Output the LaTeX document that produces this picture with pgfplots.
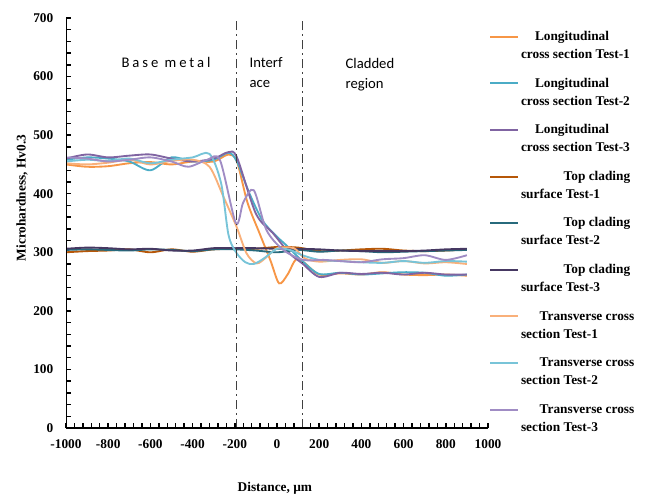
\documentclass[border=0pt]{standalone}
\usepackage{fontspec}
\setmainfont{Liberation Serif}
\newfontfamily\carlito{Carlito}
\usepackage{pgfplots}
\pgfplotsset{compat=1.18}
\definecolor{lo1}{HTML}{F79646}
\definecolor{lo2}{HTML}{4BACC6}
\definecolor{lo3}{HTML}{8064A2}
\definecolor{tc1}{HTML}{B65708}
\definecolor{tc2}{HTML}{276A7C}
\definecolor{tc3}{HTML}{463862}
\definecolor{tr1}{HTML}{F9B07A}
\definecolor{tr2}{HTML}{78C4D8}
\definecolor{tr3}{HTML}{A08CC4}
\renewcommand{\arraystretch}{1.125}
\newcommand{\lent}[3]{\begin{tabular}[t]{@{}l@{}}\hspace*{#1}#2\\#3\end{tabular}}
\begin{document}
\begin{tikzpicture}
\path[use as bounding box] (-49.5pt,-51pt) rectangle (437.25pt,321pt);
\begin{axis}[at={(0,0)}, anchor=south west, scale only axis,
  width=316.5pt, height=307.5pt,
  xmin=-1000, xmax=1000, ymin=0, ymax=700,
  axis line style={draw=none},
  xtick pos=left, ytick pos=left,
  xtick={-1000,-800,...,1000}, ytick={0,100,...,700},
  minor x tick num=4, minor y tick num=4,
  tick align=inside,
  major tick length=4pt, minor tick length=4pt,
  tick style={draw=black, line width=1.1pt},
  /pgf/number format/assume math mode=true,
  /pgf/number format/1000 sep={},
  xticklabel style={font=\bfseries, yshift=-5pt},
  yticklabel style={font=\bfseries, xshift=-6pt},
  xlabel={Distance, µm}, ylabel={Microhardness, Hv0.3},
  label style={font=\bfseries},
  xlabel style={at={(axis description cs:0.495,-0.146)}, anchor=center},
  ylabel style={at={(axis description cs:-0.104,0.561)}, anchor=center},
  legend style={at={(axis description cs:1.0024,0.976)}, anchor=north west,
    draw=none, fill=none, inner sep=0pt, outer sep=0pt,
    row sep=24pt, column sep=1.5pt, font=\bfseries,
    nodes={inner sep=0pt}, cells={anchor=base west}},
  legend image code/.code={\draw[#1, line width=1.5pt] (0pt,2.8pt) -- (21pt,2.8pt);},
]
\addplot[lo1, line width=1.4pt, smooth] coordinates {(-1000,450) (-900,446) (-800,447) (-700,452) (-600,454) (-500,450) (-400,455) (-300,455) (-230,467) (-190,455) (-140,385) (-80,330) (-30,285) (10,247) (50,262) (90,288) (130,282) (200,262) (300,264) (400,262) (500,266) (600,262) (700,261) (800,262) (900,260)};
\addlegendentry{\lent{10.5pt}{Longitudinal}{cross section Test-1}}
\addplot[lo2, line width=1.4pt, smooth] coordinates {(-1000,458) (-900,462) (-800,460) (-700,455) (-600,440) (-500,462) (-400,455) (-300,458) (-230,470) (-190,455) (-130,400) (-70,355) (-10,330) (50,310) (120,285) (200,263) (300,265) (400,262) (500,264) (600,266) (700,265) (800,260) (900,262)};
\addlegendentry{\lent{10.5pt}{Longitudinal}{cross section Test-2}}
\addplot[lo3, line width=1.4pt, smooth] coordinates {(-1000,460) (-900,467) (-800,462) (-700,465) (-600,467) (-500,460) (-400,455) (-300,460) (-230,471) (-190,462) (-100,366) (-20,333) (60,298) (120,281) (200,258) (300,265) (400,263) (500,265) (600,262) (700,265) (800,262) (900,262)};
\addlegendentry{\lent{10.5pt}{Longitudinal}{cross section Test-3}}
\addplot[tc1, line width=1.4pt, smooth] coordinates {(-1000,300) (-900,302) (-800,303) (-700,305) (-600,300) (-500,305) (-400,301) (-300,305) (-200,306) (-100,306) (0,309) (100,308) (200,302) (300,303) (400,305) (500,306) (600,303) (700,302) (800,303) (900,305)};
\addlegendentry{\lent{32pt}{Top clading}{surface Test-1}}
\addplot[tc2, line width=1.4pt, smooth] coordinates {(-1000,304) (-900,305) (-800,304) (-700,303) (-600,305) (-500,304) (-400,302) (-300,305) (-200,305) (-100,303) (0,300) (100,304) (200,301) (300,303) (400,302) (500,300) (600,301) (700,302) (800,303) (900,304)};
\addlegendentry{\lent{32pt}{Top clading}{surface Test-2}}
\addplot[tc3, line width=1.4pt, smooth] coordinates {(-1000,306) (-900,308) (-800,307) (-700,305) (-600,306) (-500,303) (-400,303) (-300,307) (-200,307) (-100,307) (0,306) (100,306) (200,305) (300,303) (400,302) (500,302) (600,302) (700,303) (800,305) (900,306)};
\addlegendentry{\lent{32pt}{Top clading}{surface Test-3}}
\addplot[tr1, line width=1.4pt, smooth] coordinates {(-1000,452) (-900,450) (-800,453) (-700,458) (-600,450) (-500,456) (-400,458) (-320,446) (-254,395) (-191,343) (-144,298) (-96,281) (-49,292) (0,307) (80,307) (130,290) (200,284) (300,287) (400,288) (500,282) (600,285) (700,281) (800,283) (900,280)};
\addlegendentry{\lent{14pt}{Transverse cross}{section Test-1}}
\addplot[tr2, line width=1.4pt, smooth] coordinates {(-1000,455) (-900,458) (-800,456) (-700,460) (-600,452) (-500,458) (-400,462) (-320,468) (-265,418) (-230,330) (-194,300) (-150,283) (-110,280) (-60,290) (0,306) (60,304) (120,295) (200,287) (300,285) (400,283) (500,282) (600,285) (700,282) (800,285) (900,284)};
\addlegendentry{\lent{14pt}{Transverse cross}{section Test-2}}
\addplot[tr3, line width=1.4pt, smooth] coordinates {(-1000,462) (-900,460) (-800,455) (-700,458) (-600,462) (-500,455) (-420,446) (-330,458) (-270,457) (-195,350) (-160,385) (-110,406) (-50,338) (30,304) (125,287) (220,287) (300,285) (400,283) (500,288) (600,290) (700,295) (800,287) (900,295)};
\addlegendentry{\lent{14pt}{Transverse cross}{section Test-3}}
\draw[black!75, line width=0.8pt, dash pattern=on 7pt off 3pt on 1.2pt off 3pt] (axis cs:-190,0) -- (axis cs:-190,700);
\draw[black!75, line width=0.8pt, dash pattern=on 7pt off 3pt on 1.2pt off 3pt] (axis cs:120,0) -- (axis cs:120,700);
\draw[black, line width=1.3pt] (rel axis cs:0,1) -- (rel axis cs:0,0) -- (rel axis cs:1,0);
\node[font=\carlito\fontsize{11}{13}\selectfont\addfontfeatures{LetterSpace=20}, anchor=base] at (axis cs:-526,616) {Base metal};
\node[font=\carlito\fontsize{11}{13}\selectfont, anchor=base west] at (axis cs:-152,616) {Interf};
\node[font=\carlito\fontsize{11}{13}\selectfont, anchor=base west] at (axis cs:-152,582) {ace};
\node[font=\carlito\fontsize{11}{13}\selectfont, anchor=base west] at (axis cs:303,614) {Cladded};
\node[font=\carlito\fontsize{11}{13}\selectfont, anchor=base west] at (axis cs:303,580) {region};
\end{axis}
\end{tikzpicture}
\end{document}
